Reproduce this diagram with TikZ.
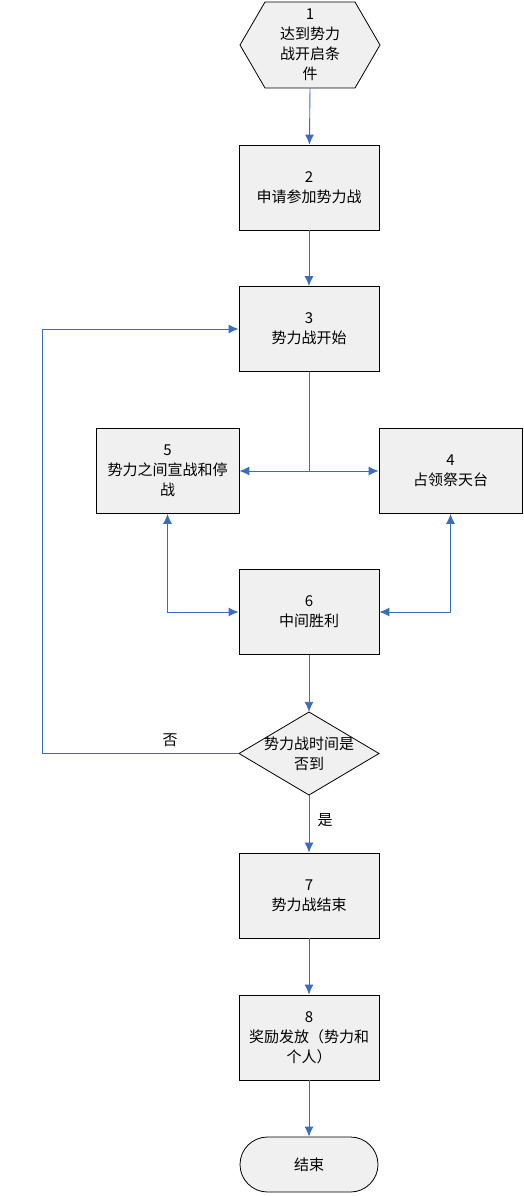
\documentclass[tikz,border=0pt]{standalone}
\usepackage{fontspec}
\setmainfont{Noto Sans CJK SC}
\usetikzlibrary{shapes.geometric,shapes.misc,arrows.meta}
\definecolor{boxfill}{HTML}{F0F0F0}
\definecolor{linkblue}{HTML}{3A6CC0}
\begin{document}
\begin{tikzpicture}[x=1pt,y=-1pt,
  base/.style={draw=black,fill=boxfill,line width=0.8pt,align=center,inner sep=1pt,
    font=\fontsize{15}{20}\selectfont},
  procbox/.style={base,rectangle,minimum width=140pt,minimum height=85pt,text width=136pt},
  freebox/.style={align=center,inner sep=0pt,font=\fontsize{15}{20}\selectfont,minimum width=140pt},
  outline/.style={draw=black,fill=boxfill,line width=0.8pt},
  termbox/.style={base,rounded rectangle,minimum width=140pt,minimum height=55pt},
  link/.style={draw=linkblue,line width=0.9pt,-{Latex[length=10pt,width=9pt]}},
  dlink/.style={draw=linkblue,line width=0.9pt,{Latex[length=10pt,width=9pt]}-{Latex[length=10pt,width=9pt]}},
  lbl/.style={font=\fontsize{15}{20}\selectfont}]
\useasboundingbox (0,0) rectangle (524,1196);
\draw[outline] (240,45) -- (265,2) -- (355,2) -- (380,45) -- (355,88) -- (265,88) -- cycle;
\node[freebox,minimum height=86pt] (n1) at (310,45) {1\\达到势力\\战开启条\\件};
\node[procbox] (n2) at (309,187.5) {2\\申请参加势力战};
\node[procbox] (n3) at (309,329) {3\\势力战开始};
\node[procbox,minimum width=143pt,text width=140pt] (n5) at (167.5,471) {5\\势力之间宣战和停\\战};
\node[procbox,minimum width=143pt,text width=140pt] (n4) at (450.5,471) {4\\占领祭天台};
\node[procbox] (n6) at (309,612) {6\\中间胜利};
\draw[outline] (239,753.5) -- (309,712) -- (379,753.5) -- (309,795) -- cycle;
\node[freebox,minimum height=83pt] (d) at (309,753.5) {势力战时间是\\否到};
\node[procbox] (n7) at (309,895.5) {7\\势力战结束};
\node[procbox] (n8) at (309,1037.5) {8\\奖励发放（势力和\\个人）};
\node[termbox] (end) at (309,1164.5) {结束};
\coordinate (j) at (309,471);
\coordinate (lb) at (42,753.5);
\coordinate (lt) at (42,329);
\draw[link] (n1.south) -- (n2);
\draw[link] (n2) -- (n3);
\draw[draw=linkblue,line width=0.9pt] (n3.south) -- (j);
\draw[link] (j) -- (n5.east);
\draw[link] (j) -- (n4.west);
\draw[dlink] (n5.south) |- (n6.west);
\draw[dlink] (n4.south) |- (n6.east);
\draw[link] (n6) -- (d.north);
\draw[link] (d.west) -- (lb) -- (lt) -- (n3.west);
\draw[link] (d.south) -- (n7);
\draw[link] (n7) -- (n8);
\draw[link] (n8) -- (end);
\node[lbl] (no) at (170,740) {否};
\node[lbl] (yes) at (325,820) {是};
\end{tikzpicture}
\end{document}
